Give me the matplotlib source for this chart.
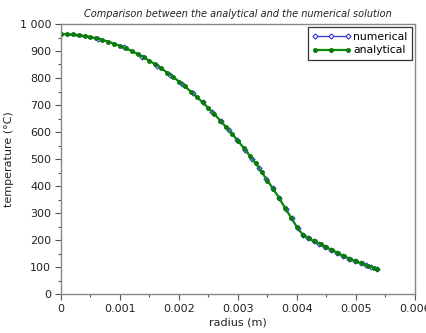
import matplotlib
matplotlib.use("Agg")
import matplotlib.pyplot as plt
from matplotlib.ticker import MultipleLocator, FuncFormatter

# numerical solution (radius in m, temperature in °C)
r_num = [0.0, 0.00062, 0.00107, 0.00138, 0.00163, 0.00185, 0.00205, 0.00223,
         0.00240, 0.00256, 0.00271, 0.00285, 0.00299, 0.00312, 0.00324, 0.00336,
         0.00348, 0.00359, 0.00370, 0.00381, 0.00391, 0.00401, 0.00410,
         0.00418, 0.00428, 0.00438, 0.00448, 0.00458, 0.00468, 0.00478,
         0.00488, 0.00498, 0.00508, 0.00517, 0.00526, 0.00535]
t_num = [963, 946, 913, 879, 846, 812, 778, 744,
         710, 675, 640, 606, 570, 535, 501, 466,
         427, 392, 356, 314, 280, 243, 219,
         208, 197, 186, 175, 164, 152, 141,
         131, 122, 114, 106, 99, 92]

# analytical solution
r_ana = [0.0, 0.0001, 0.0002, 0.0003, 0.0004, 0.0005, 0.0006, 0.0007, 0.0008, 0.0009,
         0.0010, 0.0011, 0.0012, 0.0013, 0.0014, 0.0015, 0.0016, 0.0017, 0.0018, 0.0019,
         0.0020, 0.0021, 0.0022, 0.0023, 0.0024, 0.0025, 0.0026, 0.0027, 0.0028, 0.0029,
         0.0030, 0.0031, 0.0032, 0.0033, 0.0034, 0.0035, 0.0036, 0.0037, 0.0038, 0.0039,
         0.0040, 0.0041, 0.0042, 0.0043, 0.0044, 0.0045, 0.0046, 0.0047, 0.0048, 0.0049,
         0.0050, 0.0051, 0.0052, 0.0053, 0.00535]
t_ana = [963, 962.6, 961.2, 959, 956, 952, 947, 941, 935, 927,
         919, 910, 900, 889, 877, 864, 850, 836, 820, 804,
         787, 769, 750, 730, 710, 688, 666, 642, 618, 593,
         567, 540, 512, 484, 452, 419, 388, 354, 318, 283,
         247, 219, 206, 195, 184, 173, 162, 151, 140, 130,
         121, 113, 105, 97, 92]

title = "Comparison between the analytical and the numerical solution"
xlabel = "radius (m)"
ylabel = "temperature (°C)"

plt.rcParams['font.family'] = ['DejaVu Sans']
fig = plt.figure(figsize=(4.27, 3.33), dpi=100)
ax = fig.add_axes([61/427, 1 - 294/333, (415 - 61)/427, (294 - 24)/333])

ax.plot(r_num, t_num, color='#3333dd', marker='D', ms=2.6, mfc='white',
        mec='#3333dd', mew=0.8, lw=0.9, label='numerical')
ax.plot(r_ana, t_ana, color='#0a8a0a', marker='o', ms=3.0, mfc='#0a7a0a',
        mec='#0a7a0a', mew=0.5, lw=1.6, label='analytical')

ax.set_xlim(0, 0.006)
ax.set_ylim(0, 1000)
ax.xaxis.set_major_locator(MultipleLocator(0.001))
ax.xaxis.set_minor_locator(MultipleLocator(0.0005))
ax.yaxis.set_major_locator(MultipleLocator(100))
ax.yaxis.set_minor_locator(MultipleLocator(50))

def xfmt(v, pos):
    if abs(v) < 1e-12:
        return "0"
    return f"{v:.3f}"

def yfmt(v, pos):
    return f"{int(round(v)):,}".replace(",", " ")

ax.xaxis.set_major_formatter(FuncFormatter(xfmt))
ax.yaxis.set_major_formatter(FuncFormatter(yfmt))

for s in ax.spines.values():
    s.set_color('#888888')
    s.set_linewidth(1.0)
ax.tick_params(which='both', direction='out', color='#555555', labelsize=8,
               labelcolor='#222222', top=False, right=False)
ax.tick_params(which='major', length=4, width=0.8, pad=3)
ax.tick_params(which='minor', length=2.5, width=0.8)

ax.set_xlabel(xlabel, fontsize=8, color='#222222', labelpad=3)
ax.set_ylabel(ylabel, fontsize=8, color='#222222', labelpad=4)
ax.set_title(title, fontsize=7, style='italic', color='#222222', pad=5)

leg = ax.legend(loc='upper right', fontsize=7.8, numpoints=3, handlelength=3.6,
                handletextpad=0.2, borderpad=0.4, labelspacing=0.35,
                fancybox=False, framealpha=1, edgecolor='#333333',
                borderaxespad=0.3)
leg.get_frame().set_linewidth(0.9)

fig.savefig("out.png", dpi=100)
